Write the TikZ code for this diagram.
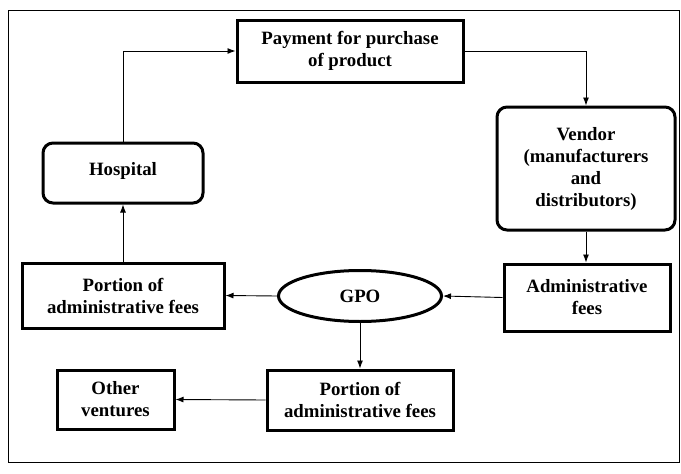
\documentclass[tikz,border=0pt]{standalone}
\usepackage{fontspec}
\setmainfont{Liberation Serif}
\usetikzlibrary{shapes.geometric,arrows.meta}
\begin{document}
\begin{tikzpicture}[x=1pt,y=-1pt,
  txt/.style={font=\bfseries\fontsize{18.8}{22}\selectfont,align=center},
  box/.style={draw,line width=3pt,inner sep=0pt,txt},
  rbox/.style={box,rounded corners=10pt},
  arr/.style={-{Latex[length=8pt,width=6pt]},line width=0.9pt}]
\useasboundingbox (0,0) rectangle (681,474);
\node[draw,line width=1.2pt,minimum width=671pt,minimum height=452pt,anchor=north west,inner sep=0pt] (frame) at (8,10) {};
\node[box,minimum width=226pt,minimum height=62pt] (pay) at (350,51) {Payment for purchase\\of product};
\node[rbox,minimum width=178pt,minimum height=123pt] (ven) at (586,168.5) {Vendor\\(manufacturers\\and\\distributors)};
\node[rbox,minimum width=160pt,minimum height=60pt] (hos) at (123,173) {\raisebox{8pt}{Hospital}};
\node[box,minimum width=166pt,minimum height=67pt] (adm) at (587,297.5) {Administrative\\fees};
\node[draw,ellipse,line width=3pt,minimum width=163pt,minimum height=51pt,inner sep=0pt,txt] (gpo) at (360,296) {GPO};
\node[box,minimum width=202pt,minimum height=65pt] (por1) at (123,295.5) {Portion of\\administrative fees};
\node[box,minimum width=186pt,minimum height=60pt] (por2) at (360,400) {Portion of\\administrative fees};
\node[box,minimum width=117pt,minimum height=59pt] (oth) at (115.5,399.5) {Other\\ventures};
\draw[arr] (hos.north) |- (pay.west);
\draw[arr] (pay.east) -| (ven.north);
\draw[arr] (ven.south) -- (ven.south |- adm.north);
\draw[arr] (adm.west) -- (gpo.east);
\draw[arr] (gpo.west) -- (por1.east);
\draw[arr] (por1.north) -- (hos.south);
\draw[arr] (gpo.south) -- (por2.north);
\draw[arr] (por2.west) -- (oth.east);
\end{tikzpicture}
\end{document}
